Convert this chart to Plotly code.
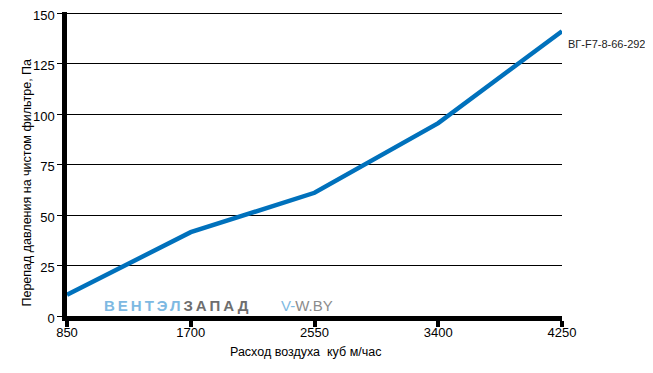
import plotly.graph_objects as go

flow = [850, 1700, 2550, 3400, 4250]
pressure = [10.5, 41.5, 61, 95.5, 141]
series_name = "ВГ-F7-8-66-292"
x_ticks = [850, 1700, 2550, 3400, 4250]
y_ticks = [0, 25, 50, 75, 100, 125, 150]
x_title = "Расход воздуха  куб м/час"
y_title = "Перепад давления на чистом фильтре, Па"

FONT = "Liberation Sans, Arial, sans-serif"

fig = go.Figure()
fig.add_trace(go.Scatter(x=flow, y=pressure, mode="lines",
                         line=dict(color="#0071BC", width=4.5),
                         name=series_name, showlegend=False, cliponaxis=False))

# page body has an 8px default margin; figure is sized to fit the 653x373 window
fig.update_layout(
    width=645, height=365,
    margin=dict(l=59, r=91, t=4, b=57, autoexpand=False),
    paper_bgcolor="white", plot_bgcolor="white",
    font=dict(family=FONT, size=13, color="black"),
    xaxis=dict(range=[850, 4250], tickvals=x_ticks, ticktext=[str(v) for v in x_ticks],
               showgrid=False, zeroline=False, showline=True, linecolor="black",
               linewidth=4.5, ticks="outside", ticklen=6, tickwidth=4, tickcolor="black",
               tickfont=dict(size=13), automargin=False, ticklabelstandoff=-5,
               ticklabeloverflow="allow"),
    yaxis=dict(range=[0, 150.5], tickvals=y_ticks, showgrid=True, gridcolor="black",
               gridwidth=1, zeroline=False, showline=True, linecolor="black",
               linewidth=4.5, ticks="outside", ticklen=5, tickwidth=1, tickcolor="black",
               tickfont=dict(size=13), automargin=False, ticklabeloverflow="allow",
               ticklabelshift=2),
)

fig.add_annotation(xref="paper", yref="paper", x=0.481, y=-0.119, xanchor="center", yanchor="middle",
                   text=x_title, showarrow=False, font=dict(size=12.5))
fig.add_annotation(xref="paper", yref="paper", x=-0.0798, y=0.4406, xanchor="center", yanchor="middle",
                   text=y_title, textangle=-90, showarrow=False, font=dict(size=12.5))

fig.add_annotation(xref="paper", yref="paper", x=1.008, y=0.894, xanchor="left", yanchor="middle",
                   text=series_name, showarrow=False, font=dict(size=11, color="#222222"))

fig.add_annotation(xref="paper", yref="paper", x=0.0707, y=0.036, xanchor="left", yanchor="middle",
                   text="<b><span style='color:#7DB9E2;letter-spacing:3px'>ВЕНТЭЛ</span><span style='color:#6E6E6E;letter-spacing:3px'>ЗАПАД</span></b>",
                   showarrow=False, font=dict(size=15))
fig.add_annotation(xref="paper", yref="paper", x=0.428, y=0.036, xanchor="left", yanchor="middle",
                   text="<span style='color:#7DB9E2'>V-</span><span style='color:#8C8C8C'>W.BY</span>",
                   showarrow=False, font=dict(size=15))

fig.write_html("out.html")
